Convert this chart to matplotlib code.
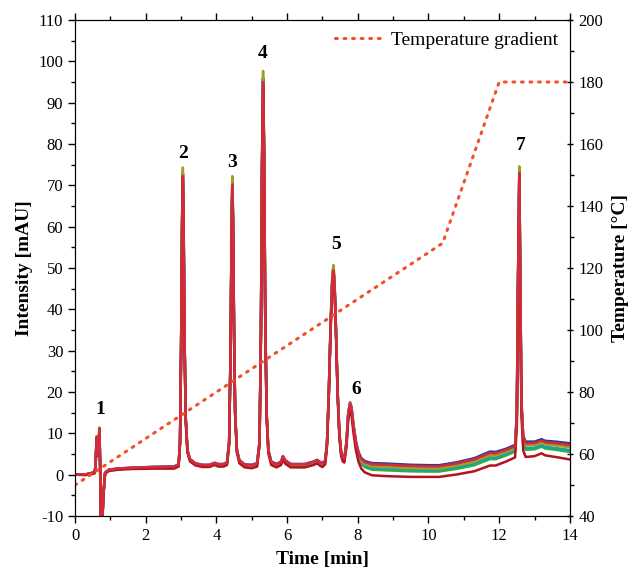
import numpy as np
import matplotlib.pyplot as plt
from matplotlib.ticker import MultipleLocator

plt.rcParams['font.family'] = ['Liberation Serif', 'DejaVu Serif']
plt.rcParams['axes.unicode_minus'] = False

# chromatogram (upper trace)
time = [0.0, 0.3, 0.55, 0.58, 0.61, 0.64, 0.66, 0.69, 0.71, 0.73, 0.77, 0.8, 0.85, 0.95,
        1.2, 1.6, 2.2, 2.8, 2.93, 2.97, 3.0, 3.03, 3.05, 3.07, 3.1, 3.13, 3.18, 3.25,
        3.4, 3.6, 3.8, 3.95, 4.05, 4.2, 4.3, 4.36, 4.4, 4.43, 4.45, 4.47, 4.5, 4.53,
        4.58, 4.65, 4.8, 5.0, 5.15, 5.22, 5.26, 5.29, 5.32, 5.35, 5.38, 5.42, 5.47,
        5.55, 5.7, 5.83, 5.88, 5.95, 6.1, 6.5, 6.75, 6.85, 6.95, 7.0, 7.08, 7.13,
        7.18, 7.23, 7.28, 7.31, 7.34, 7.38, 7.43, 7.48, 7.53, 7.58, 7.62, 7.68, 7.73,
        7.78, 7.82, 7.88, 7.95, 8.02, 8.1, 8.2, 8.4, 8.8, 9.5, 10.0, 10.3, 10.8, 11.3,
        11.74, 11.9, 12.2, 12.45, 12.5, 12.53, 12.57, 12.6, 12.63, 12.68, 12.75, 13.0,
        13.2, 13.3, 13.6, 14.0]
intensity = [0.0, 0.1, 0.6, 2.0, 9.2, 5.0, 6.0, 11.3, 2.0, -12.0, -12.0, -5.0, 0.5, 1.2,
             1.5, 1.7, 1.9, 2.0, 2.5, 8.0, 30.0, 62.0, 73.0, 62.0, 32.0, 14.0, 6.0, 3.8,
             2.8, 2.4, 2.4, 2.9, 2.6, 2.6, 3.0, 8.0, 30.0, 60.0, 71.0, 62.0, 34.0, 15.0,
             6.0, 3.5, 2.5, 2.4, 2.8, 8.0, 35.0, 75.0, 96.0, 78.0, 40.0, 15.0, 6.0,
             3.2, 2.6, 3.2, 4.5, 3.5, 2.6, 2.6, 3.2, 3.6, 3.0, 2.8, 3.5, 8.0,
             20.0, 36.0, 48.0, 50.0, 47.0, 36.0, 20.0, 10.0, 5.5, 4.2, 4.0, 8.0, 15.0,
             17.5, 16.5, 12.0, 8.0, 5.5, 4.0, 3.3, 2.8, 2.7, 2.4, 2.3, 2.3, 3.0, 4.0,
             5.6, 5.5, 6.3, 7.2, 15.0, 45.0, 74.0, 45.0, 18.0, 9.5, 8.0, 8.0,
             8.6, 8.2, 8.0, 7.6]
# gap between the upper and the lowest trace
spread = [0.0, 0.2, 0.3, 0.3, 0.3, 0.3, 0.3, 0.3, 0.3, 0.0, 0.0, 0.3, 0.3, 0.3,
          0.3, 0.3, 0.4, 0.5, 0.5, 0.5, 0.5, 0.5, 0.5, 0.5, 0.5, 0.5, 0.5, 0.5,
          0.5, 0.5, 0.5, 0.5, 0.6, 0.6, 0.6, 0.6, 0.6, 0.6, 0.6, 0.6, 0.6, 0.6,
          0.6, 0.7, 0.7, 0.8, 0.8, 0.8, 0.8, 0.8, 0.8, 0.8, 0.8, 0.8, 0.8,
          0.8, 0.8, 0.8, 0.8, 0.8, 0.8, 0.8, 0.8, 0.8, 0.9, 0.9, 0.9, 0.9,
          0.9, 0.9, 0.9, 0.9, 0.9, 0.9, 0.9, 1.0, 1.0, 1.0, 1.0, 1.2, 1.4,
          1.6, 1.7, 1.9, 2.1, 2.3, 2.5, 2.7, 2.9, 3.0, 2.9, 2.8, 2.8, 2.9, 3.1,
          3.3, 3.2, 3.0, 2.9, 2.9, 2.9, 2.9, 3.0, 3.2, 3.5, 3.6, 3.4,
          3.3, 3.4, 3.6, 3.8]

trace_colors = ['#2fb040', '#1fa0a0', '#8a3aa0', '#2b3a9a', '#a0a020', '#b3131f', '#d42a3c']
trace_offset = [0.55, 0.42, 0.2, 0.0, 0.3, 1.0, 0.08]
trace_scale = [1.0, 0.995, 1.0, 1.0, 1.02, 0.985, 0.99]

# oven temperature programme
temp_time = [0.0, 10.4, 12.0, 14.0]
temp_value = [50, 128, 180, 180]

peak_names = ['1', '2', '3', '4', '5', '6', '7']
peak_x = [0.71, 3.05, 4.44, 5.32, 7.38, 7.95, 12.61]
peak_y = [15.7, 77.8, 75.6, 102.0, 55.6, 20.7, 79.7]

fig = plt.figure(figsize=(6.36, 5.68), dpi=100)
ax = fig.add_axes([0.118, 0.0915, 0.778, 0.8733])
t = np.array(time)
top = np.array(intensity)
sp = np.array(spread)
for col, off, sc in zip(trace_colors, trace_offset, trace_scale):
    ax.plot(t, top * sc - off * sp, color=col, lw=1.8, solid_joinstyle='round')

for name, px, py in zip(peak_names, peak_x, peak_y):
    ax.text(px, py, name, ha='center', va='center', fontsize=14, fontweight='bold')

ax.set_xlim(0, 14)
ax.set_ylim(-10, 110)
ax.xaxis.set_major_locator(MultipleLocator(2))
ax.xaxis.set_minor_locator(MultipleLocator(1))
ax.yaxis.set_major_locator(MultipleLocator(10))
ax.yaxis.set_minor_locator(MultipleLocator(5))
ax.tick_params(axis='both', which='major', labelsize=12, length=5, width=1)
ax.tick_params(axis='both', which='minor', length=3, width=1)
ax.tick_params(axis='x', which='both', top=True)
ax.xaxis.set_tick_params(which='both', direction='out')
ax.set_xlabel('Time [min]', fontsize=14, fontweight='bold', labelpad=5)
ax.set_ylabel('Intensity [mAU]', fontsize=14, fontweight='bold', labelpad=4)

ax2 = ax.twinx()
ax2.plot(temp_time, temp_value, color='#f0502a', ls=(0, (0.6, 2.2)), lw=2.2,
         dash_capstyle='round', label='Temperature gradient')
ax2.set_ylim(40, 200)
ax2.yaxis.set_major_locator(MultipleLocator(20))
ax2.yaxis.set_minor_locator(MultipleLocator(10))
ax2.tick_params(axis='y', which='major', labelsize=12, length=5, width=1, direction='inout')
ax2.tick_params(axis='y', which='minor', length=3, width=1, direction='out')
ax2.set_ylabel('Temperature [°C]', fontsize=14, fontweight='bold', labelpad=6)
ax2.legend(loc='upper right', frameon=False, fontsize=14, handlelength=2.5,
           borderaxespad=0.2, handletextpad=0.4)

fig.savefig('out.png', dpi=100)
